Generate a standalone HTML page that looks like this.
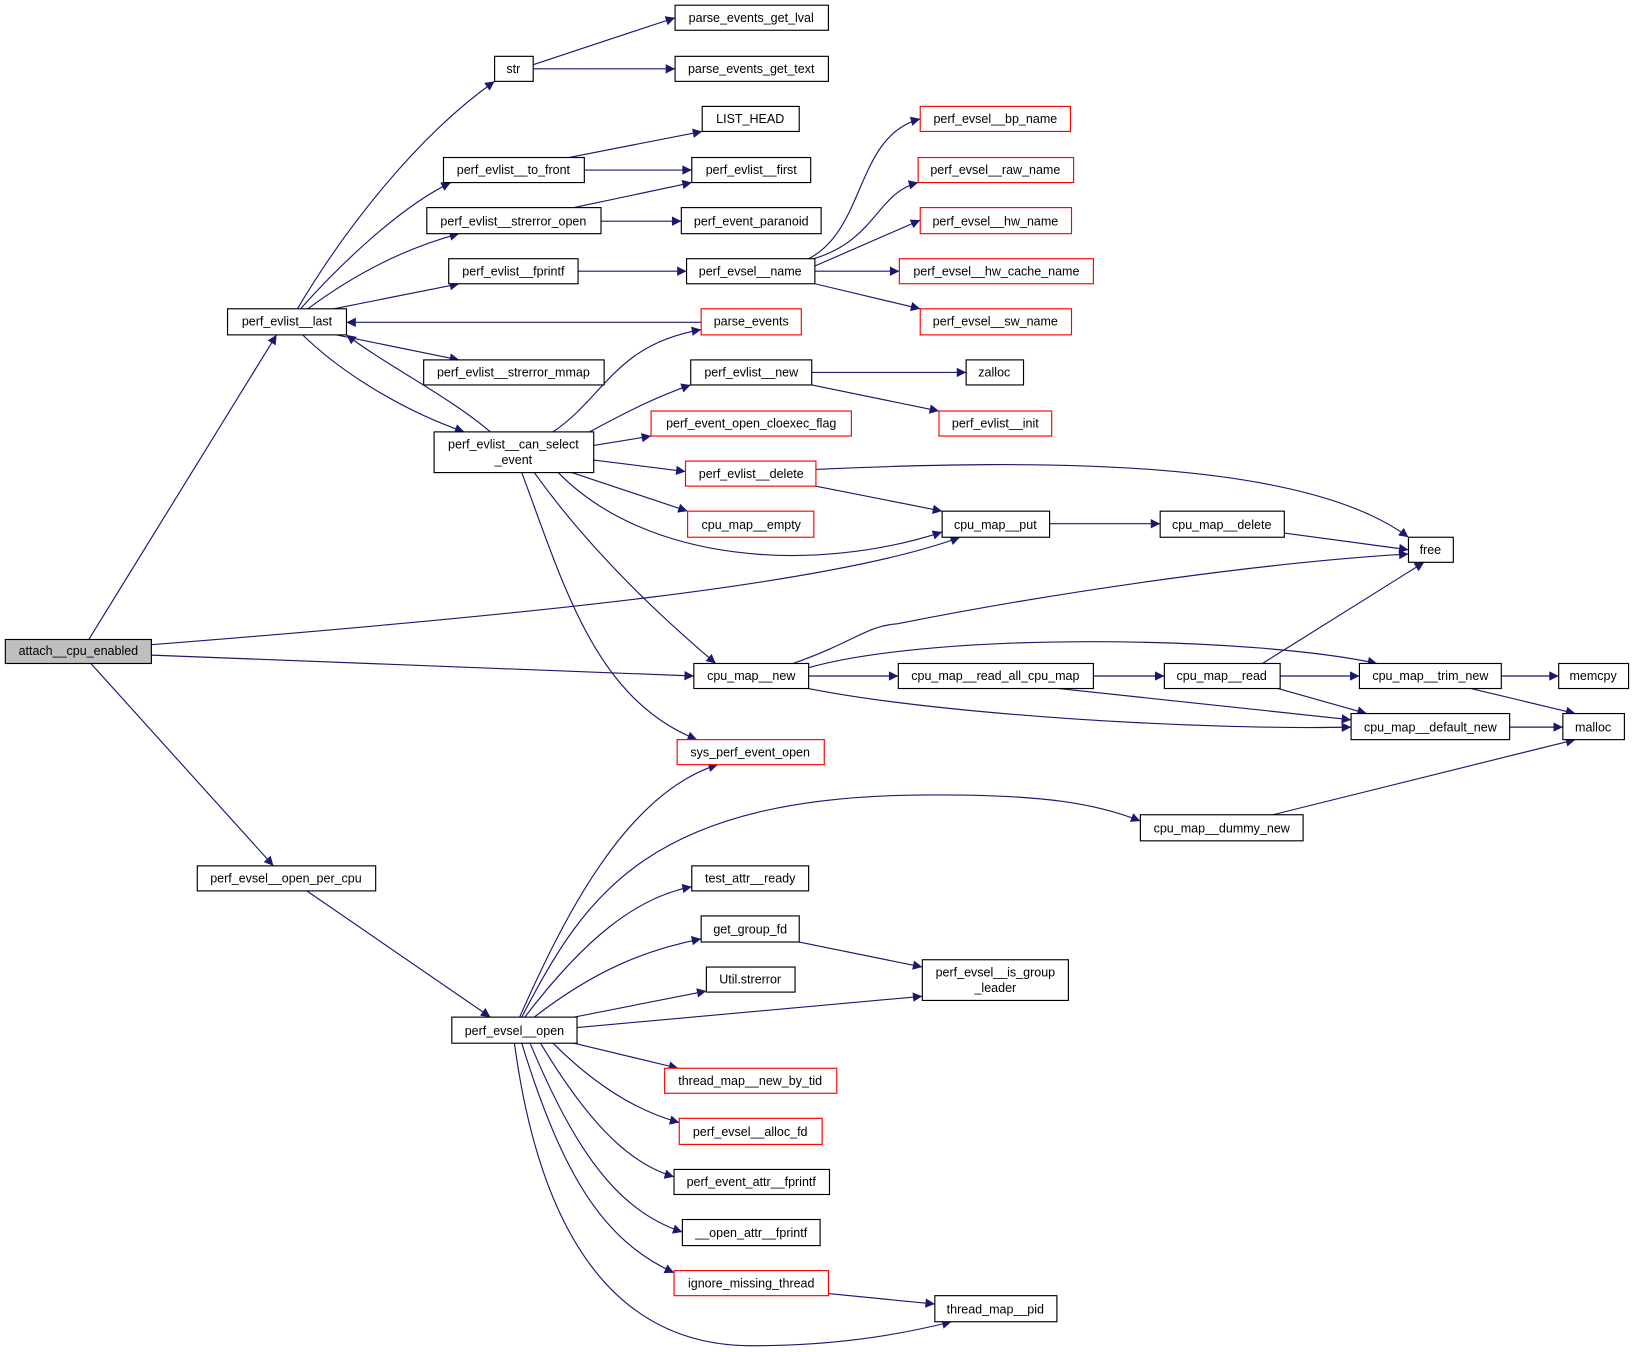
<!DOCTYPE html>
<html><head><style>html,body{margin:0;padding:0;background:#fff}svg{display:block}text{font-family:"Liberation Sans",sans-serif;font-size:12px;text-anchor:middle}</style></head>
<body>
<svg width="1636" height="1352" viewBox="0 0 1568 1296" xmlns="http://www.w3.org/2000/svg">
<defs><marker id="a" viewBox="0 0 10 10" refX="10" refY="5" markerWidth="12" markerHeight="9" markerUnits="userSpaceOnUse" orient="auto"><path d="M0,0L10,5L0,10z" fill="#191970"/></marker></defs>
<g fill="none" stroke="#191970" stroke-width="1.1" marker-end="url(#a)">
<path d="M85,613L265,321"/>
<path d="M87,636L262,830"/>
<path d="M145,628L665,648"/>
<path d="M145,618C500,590 800,560 920,515"/>
<path d="M285,296C330,220 400,130 474,78"/>
<path d="M288,296C320,260 380,200 432,175"/>
<path d="M295,296C330,270 380,240 440,224"/>
<path d="M320,296L440,272"/>
<path d="M322,321L440,345"/>
<path d="M290,321C330,360 390,395 445,414"/>
<path d="M470,414C430,380 370,350 332,321"/>
<path d="M672,309L332,309"/>
<path d="M511,62L647,17"/>
<path d="M511,66L647,66"/>
<path d="M545,151L673,126"/>
<path d="M560,163L663,163"/>
<path d="M550,199L663,175"/>
<path d="M576,212L653,212"/>
<path d="M554,260L658,260"/>
<path d="M775,248C830,220 820,130 882,114"/>
<path d="M780,248C840,230 840,185 880,175"/>
<path d="M781,255L882,211"/>
<path d="M781,260L862,260"/>
<path d="M781,272L882,296"/>
<path d="M530,414C580,380 590,330 672,316"/>
<path d="M565,414C600,395 630,380 662,369"/>
<path d="M569,427L624,418"/>
<path d="M569,441L657,452"/>
<path d="M548,453L659,490"/>
<path d="M535,453C620,540 780,550 903,510"/>
<path d="M512,453C560,520 620,580 686,636"/>
<path d="M500,453C540,560 570,670 668,709"/>
<path d="M778,357L926,357"/>
<path d="M778,369L900,394"/>
<path d="M782,450C1000,440 1250,440 1350,515"/>
<path d="M782,466L903,490"/>
<path d="M1006,502L1112,502"/>
<path d="M1231,511L1350,527"/>
<path d="M760,636C820,615 830,600 860,598C1000,570 1200,540 1350,531"/>
<path d="M775,640C900,605 1200,610 1320,636"/>
<path d="M775,648L861,648"/>
<path d="M775,660C900,685 1150,700 1295,697"/>
<path d="M1048,648L1116,648"/>
<path d="M1015,660L1295,690"/>
<path d="M1210,636L1365,539"/>
<path d="M1227,648L1303,648"/>
<path d="M1225,660L1310,684"/>
<path d="M1439,648L1494,648"/>
<path d="M1410,660L1510,684"/>
<path d="M1447,697L1498,697"/>
<path d="M1220,781L1510,709"/>
<path d="M294,854L470,975"/>
<path d="M498,975C540,880 600,760 688,733"/>
<path d="M500,975C560,860 620,760 900,762C1000,762 1050,770 1093,787"/>
<path d="M503,975C560,900 610,860 663,850"/>
<path d="M512,975C570,930 620,910 672,900"/>
<path d="M550,975L677,950"/>
<path d="M553,985L884,955"/>
<path d="M766,903L884,927"/>
<path d="M550,1000L650,1024"/>
<path d="M530,1000C570,1040 610,1065 651,1076"/>
<path d="M518,1000C560,1070 600,1115 646,1128"/>
<path d="M508,1000C550,1100 590,1160 654,1181"/>
<path d="M500,1000C540,1130 580,1190 646,1220"/>
<path d="M493,1000C520,1200 600,1290 720,1290C800,1290 860,1280 912,1267"/>
<path d="M794,1240L896,1250"/>
</g>
<g stroke-width="1.1">
<g fill="#fff" stroke="#000">
<rect x="5" y="613" width="140" height="23" fill="#bfbfbf"/>
<rect x="218" y="296" width="114" height="25"/>
<rect x="474" y="54" width="37" height="24"/>
<rect x="647" y="5" width="147" height="24"/>
<rect x="647" y="54" width="147" height="24"/>
<rect x="673" y="102" width="93" height="24"/>
<rect x="425" y="151" width="135" height="24"/>
<rect x="663" y="151" width="114" height="24"/>
<rect x="409" y="199" width="167" height="25"/>
<rect x="653" y="199" width="134" height="25"/>
<rect x="430" y="248" width="124" height="24"/>
<rect x="658" y="248" width="123" height="24"/>
<rect x="406" y="345" width="173" height="24"/>
<rect x="662" y="345" width="116" height="24"/>
<rect x="926" y="345" width="55" height="24"/>
<rect x="416" y="414" width="153" height="39"/>
<rect x="903" y="490" width="103" height="25"/>
<rect x="1112" y="490" width="119" height="25"/>
<rect x="1350" y="515" width="43" height="24"/>
<rect x="665" y="636" width="110" height="24"/>
<rect x="861" y="636" width="187" height="24"/>
<rect x="1116" y="636" width="111" height="24"/>
<rect x="1303" y="636" width="136" height="24"/>
<rect x="1494" y="636" width="67" height="24"/>
<rect x="1295" y="684" width="152" height="25"/>
<rect x="1498" y="684" width="59" height="25"/>
<rect x="1093" y="781" width="156" height="25"/>
<rect x="189" y="830" width="171" height="24"/>
<rect x="663" y="830" width="112" height="24"/>
<rect x="672" y="878" width="94" height="25"/>
<rect x="884" y="920" width="140" height="39"/>
<rect x="677" y="927" width="85" height="24"/>
<rect x="433" y="975" width="120" height="25"/>
<rect x="646" y="1121" width="149" height="24"/>
<rect x="654" y="1169" width="132" height="25"/>
<rect x="896" y="1242" width="117" height="25"/>
</g>
<g fill="#fff" stroke="#ff0000">
<rect x="882" y="102" width="144" height="24"/>
<rect x="880" y="151" width="149" height="24"/>
<rect x="882" y="199" width="145" height="25"/>
<rect x="862" y="248" width="186" height="24"/>
<rect x="882" y="296" width="145" height="25"/>
<rect x="672" y="296" width="96" height="25"/>
<rect x="900" y="394" width="108" height="24"/>
<rect x="624" y="394" width="192" height="24"/>
<rect x="657" y="442" width="125" height="24"/>
<rect x="659" y="490" width="121" height="25"/>
<rect x="649" y="709" width="141" height="24"/>
<rect x="637" y="1024" width="165" height="24"/>
<rect x="651" y="1072" width="137" height="25"/>
<rect x="646" y="1218" width="148" height="24"/>
</g>
</g>
<g fill="#000">
<text x="75" y="628">attach__cpu_enabled</text>
<text x="275" y="312">perf_evlist__last</text>
<text x="492" y="70">str</text>
<text x="720" y="21">parse_events_get_lval</text>
<text x="720" y="70">parse_events_get_text</text>
<text x="719" y="118">LIST_HEAD</text>
<text x="492" y="167">perf_evlist__to_front</text>
<text x="720" y="167">perf_evlist__first</text>
<text x="492" y="216">perf_evlist__strerror_open</text>
<text x="720" y="216">perf_event_paranoid</text>
<text x="492" y="264">perf_evlist__fprintf</text>
<text x="719" y="264">perf_evsel__name</text>
<text x="954" y="118">perf_evsel__bp_name</text>
<text x="954" y="167">perf_evsel__raw_name</text>
<text x="954" y="216">perf_evsel__hw_name</text>
<text x="955" y="264">perf_evsel__hw_cache_name</text>
<text x="954" y="312">perf_evsel__sw_name</text>
<text x="720" y="312">parse_events</text>
<text x="492" y="361">perf_evlist__strerror_mmap</text>
<text x="720" y="361">perf_evlist__new</text>
<text x="953" y="361">zalloc</text>
<text x="954" y="410">perf_evlist__init</text>
<text x="492" y="430">perf_evlist__can_select</text>
<text x="492" y="445">_event</text>
<text x="720" y="410">perf_event_open_cloexec_flag</text>
<text x="720" y="458">perf_evlist__delete</text>
<text x="720" y="507">cpu_map__empty</text>
<text x="954" y="507">cpu_map__put</text>
<text x="1171" y="507">cpu_map__delete</text>
<text x="1371" y="531">free</text>
<text x="720" y="652">cpu_map__new</text>
<text x="954" y="652">cpu_map__read_all_cpu_map</text>
<text x="1171" y="652">cpu_map__read</text>
<text x="1371" y="652">cpu_map__trim_new</text>
<text x="1527" y="652">memcpy</text>
<text x="1371" y="701">cpu_map__default_new</text>
<text x="1527" y="701">malloc</text>
<text x="719" y="725">sys_perf_event_open</text>
<text x="1171" y="798">cpu_map__dummy_new</text>
<text x="274" y="846">perf_evsel__open_per_cpu</text>
<text x="719" y="846">test_attr__ready</text>
<text x="719" y="895">get_group_fd</text>
<text x="954" y="936">perf_evsel__is_group</text>
<text x="954" y="951">_leader</text>
<text x="719" y="943">Util.strerror</text>
<text x="493" y="992">perf_evsel__open</text>
<text x="719" y="1040">thread_map__new_by_tid</text>
<text x="719" y="1089">perf_evsel__alloc_fd</text>
<text x="720" y="1137">perf_event_attr__fprintf</text>
<text x="720" y="1186">__open_attr__fprintf</text>
<text x="720" y="1234">ignore_missing_thread</text>
<text x="954" y="1259">thread_map__pid</text>
</g>
</svg>
</body></html>
